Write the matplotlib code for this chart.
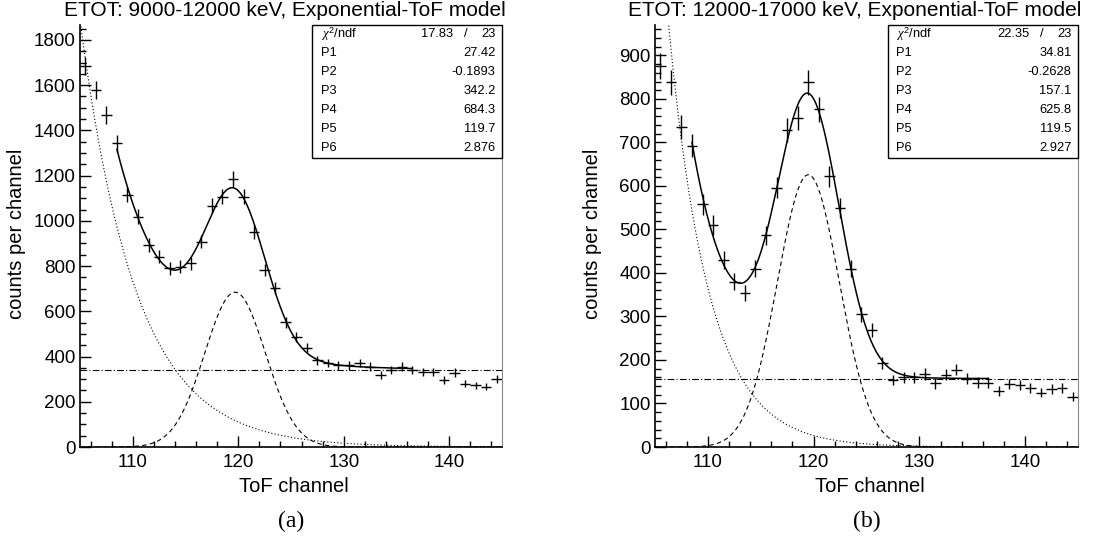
import numpy as np
import matplotlib
matplotlib.use("Agg")
import matplotlib.pyplot as plt
from matplotlib.ticker import MultipleLocator

plt.rcParams['font.family'] = ['Liberation Sans', 'DejaVu Sans']
plt.rcParams['mathtext.fontset'] = 'custom'
plt.rcParams['mathtext.it'] = 'Liberation Serif:italic'
plt.rcParams['mathtext.rm'] = 'Liberation Sans'

# ToF channel bin centres (1 channel wide bins)
channels = np.arange(105.5, 145.0, 1.0)

# counts per channel
counts_a = [1685, 1580, 1468, 1343, 1115, 1019, 893, 842, 790, 797,
            812, 908, 1067, 1107, 1185, 1107, 952, 783, 704, 551,
            485, 437, 383, 371, 361, 361, 371, 355, 320, 341,
            355, 341, 330, 330, 296, 329, 280, 273, 267, 299]
counts_b = [875, 838, 735, 693, 558, 510, 429, 380, 354, 410,
            487, 596, 729, 757, 838, 776, 622, 550, 410, 305,
            269, 194, 154, 160, 160, 168, 146, 166, 178, 157,
            148, 148, 129, 145, 142, 136, 125, 133, 135, 116]

# fit results: exp(P1+P2*x) + P3 + P4*gaus(P5, P6)
params_a = [27.42, -0.1893, 342.2, 684.3, 119.7, 2.876]
params_b = [34.81, -0.2628, 157.1, 625.8, 119.5, 2.927]
chi2_a = ("17.83", "23")
chi2_b = ("22.35", "23")

titles = ["ETOT: 9000-12000 keV, Exponential-ToF model",
          "ETOT: 12000-17000 keV, Exponential-ToF model"]
panel_tags = ["(a)", "(b)"]
fit_range = (108.5, 136.5)


def draw_panel(fig, rect, counts, p, chi2, ymax, ymajor, yminor, title, tag, title_x):
    ax = fig.add_axes(rect)
    W, H = fig.get_size_inches() * fig.dpi
    counts = np.array(counts, dtype=float)
    ax.errorbar(channels, counts, xerr=0.5, yerr=np.sqrt(counts), fmt='none',
                ecolor='black', elinewidth=1.0, capsize=0)

    x = np.linspace(105, 145, 800)
    expo = np.exp(p[0] + p[1] * x)
    const = np.full_like(x, p[2])
    gaus = p[3] * np.exp(-0.5 * ((x - p[4]) / p[5]) ** 2)
    ax.plot(x, expo, color='black', lw=0.8, ls=(0, (1, 2)))
    ax.plot(x, gaus, color='black', lw=0.8, ls=(0, (4, 3)))
    ax.plot(x, const, color='black', lw=0.8, ls=(0, (6, 2, 1, 2)))
    xf = np.linspace(fit_range[0], fit_range[1], 500)
    total = np.exp(p[0] + p[1] * xf) + p[2] + p[3] * np.exp(-0.5 * ((xf - p[4]) / p[5]) ** 2)
    ax.plot(xf, total, color='black', lw=1.1)

    ax.set_xlim(105, 145)
    ax.set_ylim(0, ymax)
    ax.xaxis.set_major_locator(MultipleLocator(10))
    ax.xaxis.set_minor_locator(MultipleLocator(2))
    ax.yaxis.set_major_locator(MultipleLocator(ymajor))
    ax.yaxis.set_minor_locator(MultipleLocator(yminor))
    ax.tick_params(which='both', direction='in', labelsize=13.5, width=1.0)
    ax.tick_params(which='major', length=8)
    ax.tick_params(which='minor', length=4)
    ax.tick_params(axis='x', pad=5)
    ax.tick_params(axis='y', pad=3)
    ax.spines['top'].set_visible(False)
    ax.spines['right'].set_color('#888888')
    ax.spines['left'].set_linewidth(1.2)
    ax.spines['bottom'].set_linewidth(1.2)

    # stats box
    fs = 9.3
    bx0, by0 = 0.55, 0.685
    ax.add_patch(plt.Rectangle((bx0, by0), 1 - bx0, 1 - by0, transform=ax.transAxes,
                               fill=True, facecolor='white', edgecolor='black', lw=1.0,
                               zorder=5, clip_on=False))
    row_h = (1 - by0) / 7
    rows = [("P%d" % (i + 1), "%.4g" % v) for i, v in enumerate(p)]
    yy = 1 - row_h / 2
    ax.text(bx0 + 0.02, yy, r"$\chi^2$/ndf", transform=ax.transAxes, fontsize=fs,
            va='center', ha='left', zorder=6)
    ax.text(0.885, yy, chi2[0], transform=ax.transAxes, fontsize=fs, va='center', ha='right', zorder=6)
    ax.text(0.915, yy, "/", transform=ax.transAxes, fontsize=fs, va='center', ha='center', zorder=6)
    ax.text(0.985, yy, chi2[1], transform=ax.transAxes, fontsize=fs, va='center', ha='right', zorder=6)
    for i, (name, val) in enumerate(rows):
        yy = 1 - row_h * (i + 1.5)
        ax.text(bx0 + 0.02, yy, name, transform=ax.transAxes, fontsize=fs,
                va='center', ha='left', zorder=6)
        ax.text(0.985, yy, val, transform=ax.transAxes, fontsize=fs,
                va='center', ha='right', zorder=6)

    cx = rect[0] + rect[2] / 2
    fig.text(title_x / W, 1 - 11 / H, title, ha='center', va='center', fontsize=15)
    fig.text(cx + 3 / W, 1 - 487 / H, "ToF channel", ha='center', va='center', fontsize=14.5)
    fig.text(rect[0] - 63 / W, 1 - 234 / H, "counts per channel", rotation=90,
             ha='center', va='center', fontsize=14.5)
    fig.text(cx, 1 - 521 / H, tag, ha='center', va='center', fontsize=17,
             family='Liberation Serif')
    return ax


fig = plt.figure(figsize=(11.04, 5.56), dpi=100)
W, H = 1104, 556
rect_a = [80 / W, 1 - 447 / H, 422 / W, 422 / H]
rect_b = [655 / W, 1 - 447 / H, 423 / W, 422 / H]
draw_panel(fig, rect_a, counts_a, params_a, chi2_a, 1866, 200, 50, titles[0], panel_tags[0], 285)
draw_panel(fig, rect_b, counts_b, params_b, chi2_b, 970, 100, 20, titles[1], panel_tags[1], 855)

fig.savefig("out.png", dpi=100)
